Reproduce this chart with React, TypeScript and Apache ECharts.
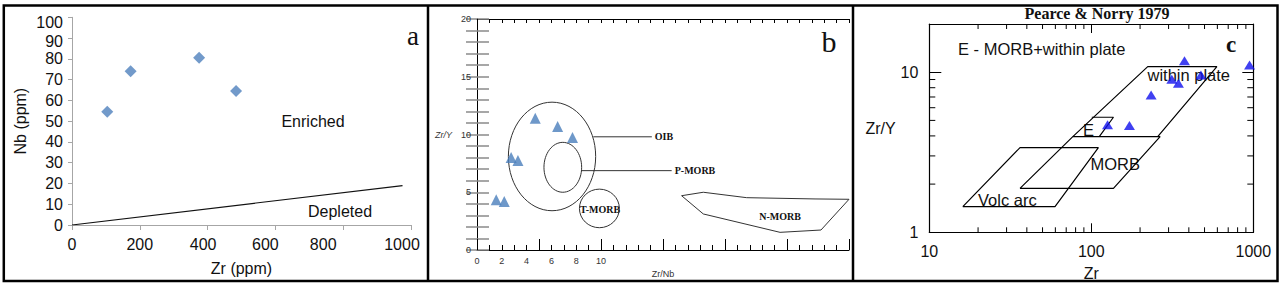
import React, { useEffect, useRef } from 'react';
import * as echarts from 'echarts';

// ---------- Panel a : Nb vs Zr ----------
const aZr = [104, 173, 375, 484];
const aNb = [54.5, 74, 80.5, 64.5];
const aDividerZr = [0, 975];
const aDividerNb = [0, 19];

// ---------- Panel b : Zr/Y vs Zr/Nb ----------
const bZrNb = [1.55, 2.2, 2.75, 3.3, 4.7, 6.5, 7.7];
const bZrY = [4.35, 4.2, 8.0, 7.75, 11.4, 10.7, 9.75];
// ellipse fields: [centreX, centreY, radiusX, radiusY]
const bOIB = [6.05, 8.1, 3.52, 4.7];
const bPMORB = [6.92, 7.16, 1.52, 2.16];
const bTMORB = [9.87, 3.6, 1.61, 1.67];
const bNMORBx = [16.5, 18.25, 21.75, 27.26, 30, 27.74, 24.44, 18.25, 16.5];
const bNMORBy = [4.7, 5.0, 4.53, 4.42, 4.39, 1.73, 1.53, 3.12, 4.7];
const bOIBLeaderX = [9.38, 14.1];
const bOIBLeaderY = [9.8, 9.8];
const bPMORBLeaderX = [8.44, 15.7];
const bPMORBLeaderY = [6.87, 6.87];

// ---------- Panel c : Zr/Y vs Zr (Pearce & Norry 1979) ----------
const cZr = [376, 948, 314, 345, 475, 234, 126, 172];
const cZrY = [11.8, 11.1, 9.04, 8.53, 9.62, 7.21, 4.69, 4.64];
const cWithinPlateZr = [76.9, 223, 596, 257];
const cWithinPlateY = [3.96, 10.84, 10.84, 3.96];
const cMorbZr = [36.3, 76.9, 266, 137, 36.3];
const cMorbY = [1.88, 3.96, 3.96, 1.88, 1.88];
const cEZr = [100.7, 137, 112];
const cEY = [5.23, 5.23, 3.96];
const cVolcZr = [16.1, 59.7, 110.6, 36.3, 16.1];
const cVolcY = [1.445, 1.445, 3.38, 3.38, 1.445];
const cXMinorTicks = [20, 30, 40, 50, 60, 70, 80, 90, 200, 300, 400, 500, 600, 700, 800, 900];
const cYMinorTicks = [2, 3, 4, 5, 6, 7, 8, 9];

const SANS = '"Liberation Sans", Arial, Helvetica, sans-serif';
const SERIF = '"Liberation Serif", "Times New Roman", serif';

const pair = (xs: number[], ys: number[]) => xs.map((x, i) => [x, ys[i]]);

function txt(text: string, x: number, y: number, size: number, opts: any = {}) {
  const align = opts.align || 'center';
  return {
    type: 'text',
    x,
    y,
    z: 1,
    silent: true,
    style: {
      text,
      x: 0,
      y: 0,
      fontFamily: opts.family || SANS,
      fontSize: size,
      fontWeight: opts.weight || 'normal',
      fill: opts.color || '#111',
      align,
      textAlign: align,
      verticalAlign: 'middle',
      textVerticalAlign: 'middle',
    },
  };
}

// small label offsets seen in panel a's axis labels
const aXShift: Record<string, number> = { '0': 0, '200': 0, '400': 9, '600': 20, '800': 40, '1000': 18 };
const aYShift: Record<string, number> = { '100': 10, '90': 6 };

export default function App() {
  const ref = useRef<HTMLDivElement>(null);

  useEffect(() => {
    const chart = echarts.init(ref.current!, null, { renderer: 'svg' });
    const noSplit = { show: false };

    const xRich: any = {};
    Object.keys(aXShift).forEach((k) => {
      xRich['x' + k] = { fontSize: 16, color: '#111', fontFamily: SANS, padding: [0, aXShift[k], 0, 0] };
    });
    const yRich: any = {};
    Object.keys(aYShift).forEach((k) => {
      yRich['y' + k] = { fontSize: 16, color: '#111', fontFamily: SANS, padding: [aYShift[k], 0, 0, 0] };
    });

    const option: any = {
      animation: false,
      backgroundColor: '#fff',
      textStyle: { fontFamily: SANS },
      grid: [
        { left: 72, top: 17.3, width: 339, height: 207.7 },
        { left: 477, top: 19, width: 372, height: 231 },
        { left: 929.3, top: 24, width: 324, height: 208.3 },
      ],
      xAxis: [
        // 0: panel a
        {
          gridIndex: 0, type: 'value', min: 0, max: 1000, interval: 200, position: 'bottom',
          axisLine: { show: true, lineStyle: { color: '#a6a6a6', width: 1 } },
          axisTick: { show: true, inside: false, length: 5, lineStyle: { color: '#a6a6a6' } },
          axisLabel: {
            fontSize: 16, color: '#111', margin: 11, fontFamily: SANS, rich: xRich,
            formatter: (v: number) => {
              const k = String(Math.round(v));
              return aXShift[k] ? `{x${k}|${k}}` : k;
            },
          },
          splitLine: noSplit,
          name: 'Zr (ppm)', nameLocation: 'middle', nameGap: 35,
          nameTextStyle: { fontSize: 16, color: '#111', fontFamily: SANS },
        },
        // 1: panel b bottom
        {
          gridIndex: 1, type: 'value', min: 0, max: 30, interval: 1, position: 'bottom',
          axisLine: { show: true, lineStyle: { color: '#000', width: 1 } },
          axisTick: { show: true, inside: true, length: 5, lineStyle: { color: '#000' } },
          axisLabel: {
            fontSize: 9, color: '#333', margin: 6, fontFamily: SANS,
            formatter: (v: number) => (v % 2 === 0 && v <= 10 ? String(v) : ''),
          },
          splitLine: noSplit,
          name: 'Zr/Nb', nameLocation: 'middle', nameGap: 19,
          nameTextStyle: { fontSize: 9, color: '#333', fontFamily: SANS },
        },
        // 2: panel b bottom long ticks
        {
          gridIndex: 1, type: 'value', min: 0, max: 30, interval: 5, position: 'bottom',
          axisLine: { show: false },
          axisTick: { show: true, inside: true, length: 11, lineStyle: { color: '#000' } },
          axisLabel: { show: false },
          splitLine: noSplit,
        },
        // 3: panel b top
        {
          gridIndex: 1, type: 'value', min: 0, max: 30, interval: 1, position: 'top',
          axisLine: { show: true, lineStyle: { color: '#000', width: 1 } },
          axisTick: { show: true, inside: true, length: 4, lineStyle: { color: '#000' } },
          axisLabel: { show: false },
          splitLine: noSplit,
        },
        // 4: panel c bottom (log)
        {
          gridIndex: 2, type: 'log', logBase: 10, min: 10, max: 1000, position: 'bottom',
          axisLine: { show: true, lineStyle: { color: '#000', width: 1.2 } },
          axisTick: { show: true, inside: true, length: 9, lineStyle: { color: '#000' } },
          axisLabel: {
            fontSize: 16, color: '#111', margin: 11, fontFamily: SANS,
            formatter: (v: number) => String(Math.round(v)),
          },
          splitLine: noSplit, minorTick: { show: false },
          name: 'Zr', nameLocation: 'middle', nameGap: 33,
          nameTextStyle: { fontSize: 16, color: '#111', fontFamily: SANS },
        },
        // 5: panel c top (log)
        {
          gridIndex: 2, type: 'log', logBase: 10, min: 10, max: 1000, position: 'top',
          axisLine: { show: true, lineStyle: { color: '#000', width: 1.2 } },
          axisTick: { show: true, inside: true, length: 9, lineStyle: { color: '#000' } },
          axisLabel: { show: false },
          splitLine: noSplit,
        },
      ],
      yAxis: [
        // 0: panel a
        {
          gridIndex: 0, type: 'value', min: 0, max: 100, interval: 10, position: 'left',
          axisLine: { show: true, lineStyle: { color: '#a6a6a6', width: 1 } },
          axisTick: { show: true, inside: false, length: 4, lineStyle: { color: '#a6a6a6' } },
          axisLabel: {
            fontSize: 16, color: '#111', margin: 9, fontFamily: SANS, rich: yRich,
            formatter: (v: number) => {
              const k = String(Math.round(v));
              return aYShift[k] ? `{y${k}|${k}}` : k;
            },
          },
          splitLine: noSplit,
          name: 'Nb (ppm)', nameLocation: 'middle', nameGap: 44,
          nameTextStyle: { fontSize: 16, color: '#111', fontFamily: SANS },
        },
        // 1: panel b left
        {
          gridIndex: 1, type: 'value', min: 0, max: 20, interval: 1, position: 'left',
          axisLine: { show: true, lineStyle: { color: '#000', width: 1 } },
          axisTick: { show: true, inside: true, length: 12, lineStyle: { color: '#8a8a8a', width: 1.5 } },
          axisLabel: {
            fontSize: 9, color: '#333', margin: 6, fontFamily: SANS,
            formatter: (v: number) => (v % 5 === 0 ? String(v) : ''),
          },
          splitLine: noSplit,
          name: 'Zr/Y', nameLocation: 'middle', nameRotate: 0, nameGap: 25,
          nameTextStyle: { fontSize: 9, color: '#333', fontFamily: SANS, fontStyle: 'italic' },
        },
        // 2: panel b right
        {
          gridIndex: 1, type: 'value', min: 0, max: 20, interval: 1, position: 'right',
          axisLine: { show: true, lineStyle: { color: '#000', width: 1 } },
          axisTick: { show: true, inside: true, length: 11, lineStyle: { color: '#8a8a8a', width: 1.5 } },
          axisLabel: { show: false },
          splitLine: noSplit,
        },
        // 3: panel c left (log)
        {
          gridIndex: 2, type: 'log', logBase: 10, min: 1, max: 20, position: 'left',
          axisLine: { show: true, lineStyle: { color: '#000', width: 1.2 } },
          axisTick: { show: true, inside: true, length: 12, lineStyle: { color: '#000' } },
          axisLabel: {
            fontSize: 16, color: '#111', margin: 11, fontFamily: SANS,
            formatter: (v: number) => (Math.abs(v - 1) < 1e-6 || Math.abs(v - 10) < 1e-6 ? String(Math.round(v)) : ''),
          },
          splitLine: noSplit, minorTick: { show: false },
          name: 'Zr/Y', nameLocation: 'middle', nameRotate: 0, nameGap: 29,
          nameTextStyle: { fontSize: 16, color: '#111', fontFamily: SANS },
        },
        // 4: panel c right (log)
        {
          gridIndex: 2, type: 'log', logBase: 10, min: 1, max: 20, position: 'right',
          axisLine: { show: true, lineStyle: { color: '#000', width: 1.2 } },
          axisTick: { show: true, inside: true, length: 11, lineStyle: { color: '#000' } },
          axisLabel: { show: false },
          splitLine: noSplit,
        },
      ],
      series: [
        // panel a
        {
          type: 'line', xAxisIndex: 0, yAxisIndex: 0, data: pair(aDividerZr, aDividerNb),
          symbol: 'none', lineStyle: { color: '#111', width: 1.2 }, silent: true,
        },
        {
          type: 'scatter', xAxisIndex: 0, yAxisIndex: 0, data: pair(aZr, aNb),
          symbol: 'diamond', symbolSize: [12, 12], itemStyle: { color: '#4f81bd' },
        },
        // panel b
        {
          type: 'custom', xAxisIndex: 1, yAxisIndex: 1, silent: true,
          data: [bOIB, bPMORB, bTMORB],
          renderItem: (params: any, api: any) => {
            const c = api.coord([api.value(0), api.value(1)]);
            const s = api.size([api.value(2), api.value(3)]);
            return {
              type: 'ellipse',
              shape: { cx: c[0], cy: c[1], rx: s[0], ry: s[1] },
              style: { fill: 'none', stroke: '#333', lineWidth: 1 },
            };
          },
        },
        {
          type: 'line', xAxisIndex: 1, yAxisIndex: 1, data: pair(bNMORBx, bNMORBy),
          symbol: 'none', lineStyle: { color: '#333', width: 1 }, silent: true,
        },
        {
          type: 'line', xAxisIndex: 1, yAxisIndex: 1, data: pair(bOIBLeaderX, bOIBLeaderY),
          symbol: 'none', lineStyle: { color: '#333', width: 1 }, silent: true,
        },
        {
          type: 'line', xAxisIndex: 1, yAxisIndex: 1, data: pair(bPMORBLeaderX, bPMORBLeaderY),
          symbol: 'none', lineStyle: { color: '#333', width: 1 }, silent: true,
        },
        {
          type: 'scatter', xAxisIndex: 1, yAxisIndex: 1, data: pair(bZrNb, bZrY),
          symbol: 'triangle', symbolSize: [11, 11], itemStyle: { color: '#4a7ebb' },
        },
        // panel c minor ticks (log positions via the log axes)
        {
          type: 'custom', xAxisIndex: 4, yAxisIndex: 3, silent: true, clip: false,
          data: cXMinorTicks.map((v) => [v, 1]),
          renderItem: (params: any, api: any) => {
            const v = api.value(0);
            const b = api.coord([v, 1]);
            const t = api.coord([v, 20]);
            return {
              type: 'group',
              children: [
                { type: 'line', shape: { x1: b[0], y1: b[1], x2: b[0], y2: b[1] - 5 }, style: { stroke: '#000', lineWidth: 1 } },
                { type: 'line', shape: { x1: t[0], y1: t[1], x2: t[0], y2: t[1] + 5 }, style: { stroke: '#000', lineWidth: 1 } },
              ],
            };
          },
        },
        {
          type: 'custom', xAxisIndex: 4, yAxisIndex: 3, silent: true, clip: false,
          data: cYMinorTicks.map((v) => [10, v]),
          renderItem: (params: any, api: any) => {
            const v = api.value(1);
            const l = api.coord([10, v]);
            const r = api.coord([1000, v]);
            return {
              type: 'group',
              children: [
                { type: 'line', shape: { x1: l[0], y1: l[1], x2: l[0] + 6, y2: l[1] }, style: { stroke: '#000', lineWidth: 1 } },
                { type: 'line', shape: { x1: r[0], y1: r[1], x2: r[0] - 6, y2: r[1] }, style: { stroke: '#000', lineWidth: 1 } },
              ],
            };
          },
        },
        // panel c fields
        {
          type: 'line', xAxisIndex: 4, yAxisIndex: 3, data: pair(cWithinPlateZr, cWithinPlateY),
          symbol: 'none', lineStyle: { color: '#000', width: 1.2 }, silent: true,
        },
        {
          type: 'line', xAxisIndex: 4, yAxisIndex: 3, data: pair(cMorbZr, cMorbY),
          symbol: 'none', lineStyle: { color: '#000', width: 1.2 }, silent: true,
        },
        {
          type: 'line', xAxisIndex: 4, yAxisIndex: 3, data: pair(cEZr, cEY),
          symbol: 'none', lineStyle: { color: '#000', width: 1.2 }, silent: true,
        },
        {
          type: 'line', xAxisIndex: 4, yAxisIndex: 3, data: pair(cVolcZr, cVolcY),
          symbol: 'none', lineStyle: { color: '#000', width: 1.2 }, silent: true,
        },
        {
          type: 'scatter', xAxisIndex: 4, yAxisIndex: 3, data: pair(cZr, cZrY), z: 5,
          symbol: 'triangle', symbolSize: [11, 9], itemStyle: { color: '#1010ee' },
        },
      ],
      graphic: [
        // frame and dividers
        { type: 'rect', z: 100, silent: true, shape: { x: 3.8, y: 5.5, width: 1273.7, height: 275.5 }, style: { fill: 'none', stroke: '#000', lineWidth: 2.5 } },
        { type: 'line', z: 100, silent: true, shape: { x1: 428, y1: 5.5, x2: 428, y2: 281 }, style: { stroke: '#000', lineWidth: 2.5 } },
        { type: 'line', z: 100, silent: true, shape: { x1: 853, y1: 5.5, x2: 853, y2: 281 }, style: { stroke: '#000', lineWidth: 2.5 } },
        // panel a
        txt('Enriched', 313, 121, 16),
        txt('Depleted', 340, 211, 16),
        txt('a', 413, 36, 27, { family: SERIF }),
        // panel b
        txt('OIB', 664, 136.5, 10, { family: SERIF, weight: 'bold' }),
        txt('P-MORB', 695, 170.5, 10, { family: SERIF, weight: 'bold' }),
        txt('T-MORB', 600, 209, 10, { family: SERIF, weight: 'bold' }),
        txt('N-MORB', 780, 216, 10, { family: SERIF, weight: 'bold' }),
        txt('b', 829, 41, 30, { family: SERIF }),
        // panel c
        txt('Pearce & Norry 1979', 1097, 13.5, 16, { family: SERIF, weight: 'bold' }),
        txt('E - MORB+within plate', 958, 48.5, 16.5, { align: 'left' }),
        txt('c', 1231, 44, 23, { family: SERIF, weight: 'bold' }),
        txt('within plate', 1147.5, 75, 16.5, { align: 'left' }),
        txt('E', 1083, 130, 16.5, { align: 'left' }),
        txt('MORB', 1090.5, 163.5, 16.5, { align: 'left' }),
        txt('Volc arc', 978, 200, 16.5, { align: 'left' }),
      ],
    };

    chart.setOption(option);
    return () => chart.dispose();
  }, []);

  return (
    <div
      ref={ref}
      style={{ position: 'absolute', left: 0, top: 0, width: 1285, height: 290, background: '#fff' }}
    />
  );
}
